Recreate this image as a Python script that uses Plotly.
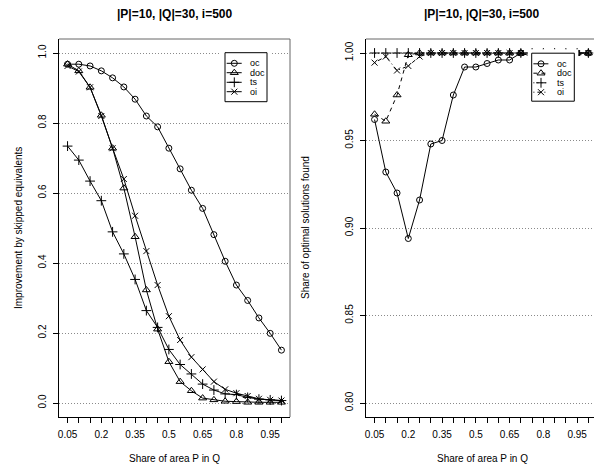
import plotly.graph_objects as go

# ---------------- data ----------------
share = [0.05, 0.10, 0.15, 0.20, 0.25, 0.30, 0.35, 0.40, 0.45, 0.50,
         0.55, 0.60, 0.65, 0.70, 0.75, 0.80, 0.85, 0.90, 0.95, 1.00]
x_tick_labels = ["0.05", "", "", "0.2", "", "", "0.35", "", "", "0.5",
                 "", "", "0.65", "", "", "0.8", "", "", "0.95", ""]

# left panel: improvement by skipped equivalents
imp_oc = [0.968, 0.968, 0.963, 0.949, 0.929, 0.903, 0.868, 0.820, 0.789, 0.728,
          0.669, 0.608, 0.556, 0.481, 0.405, 0.337, 0.293, 0.243, 0.199, 0.151]
imp_doc = [0.968, 0.949, 0.902, 0.822, 0.728, 0.614, 0.475, 0.323, 0.211, 0.118,
           0.061, 0.035, 0.014, 0.009, 0.005, 0.004, 0.002, 0.002, 0.002, 0.002]
imp_ts = [0.734, 0.694, 0.634, 0.578, 0.489, 0.426, 0.353, 0.264, 0.216, 0.153,
          0.110, 0.083, 0.054, 0.037, 0.026, 0.024, 0.016, 0.011, 0.009, 0.007]
imp_oi = [0.963, 0.947, 0.902, 0.820, 0.728, 0.640, 0.535, 0.434, 0.337, 0.248,
          0.180, 0.131, 0.096, 0.061, 0.039, 0.028, 0.020, 0.012, 0.009, 0.007]

# right panel: share of optimal solutions found
opt_oc = [0.962, 0.932, 0.920, 0.894, 0.916, 0.948, 0.950, 0.976, 0.992, 0.992,
          0.994, 0.996, 0.996, 1.000, 0.998, 1.000, 0.998, 1.000, 1.000, 1.000]
opt_doc = [0.965, 0.961, 0.976, 0.999, 1.000, 1.000, 1.000, 1.000, 1.000, 1.000,
           1.000, 1.000, 1.000, 1.000, 1.000, 1.000, 1.000, 1.000, 1.000, 1.000]
opt_ts = [1.000] * 20
opt_oi = [0.9945, 0.998, 0.990, 0.9926, 0.998, 1.000, 1.000, 1.000, 1.000, 1.000,
          1.000, 1.000, 1.000, 1.000, 1.000, 1.000, 1.000, 1.000, 1.000, 1.000]

left_ticks = [0.0, 0.2, 0.4, 0.6, 0.8, 1.0]
left_ticktext = ["0.0", "0.2", "0.4", "0.6", "0.8", "1.0"]
right_ticks = [0.80, 0.85, 0.90, 0.95, 1.00]
right_ticktext = ["0.80", "0.85", "0.90", "0.95", "1.00"]

series_names = ["oc", "doc", "ts", "oi"]
title_text = "|P|=10, |Q|=30, i=500"
xlab = "Share of area P in Q"
ylab_left = "Improvement by skipped equivalents"
ylab_right = "Share of optimal solutions found"

# ---------------- styling ----------------
W, H = 594, 468
FONT = "Liberation Sans, Arial, Helvetica, sans-serif"
symbols = ["circle-open", "triangle-up-open", "cross-thin-open", "x-thin-open"]
msizes = [6, 7, 7, 6]
left_dash = ["solid"] * 4
right_dash = ["solid", "4px,4px", "1px,3px", "1px,3px,4px,3px"]


def fx(p):
    return p / W


def fy(p):
    return 1 - p / H


fig = go.Figure()

left_vals = [imp_oc, imp_doc, imp_ts, imp_oi]
right_vals = [opt_oc, opt_doc, opt_ts, opt_oi]

for vals, sym, ms, d in zip(left_vals, symbols, msizes, left_dash):
    fig.add_trace(go.Scatter(
        x=share, y=vals, mode="lines+markers", xaxis="x", yaxis="y",
        line=dict(color="black", width=1, dash=d),
        marker=dict(symbol=sym, size=ms, color="black", line=dict(width=1, color="black")),
        showlegend=False, cliponaxis=False))

for vals, sym, ms, d in zip(right_vals, symbols, msizes, right_dash):
    fig.add_trace(go.Scatter(
        x=share, y=vals, mode="lines+markers", xaxis="x2", yaxis="y2",
        line=dict(color="black", width=1, dash=d),
        marker=dict(symbol=sym, size=ms, color="black", line=dict(width=1, color="black")),
        showlegend=False, cliponaxis=False))


# ---------------- manual legends (R style) ----------------
def add_legend(xa, ya, box_l, box_r, box_t, box_b, dashes):
    pad = 4
    fig.add_trace(go.Scatter(
        x=[box_l, box_r, box_r, box_l, box_l], y=[box_t, box_t, box_b, box_b, box_t],
        mode="lines", fill="toself", fillcolor="white",
        line=dict(color="black", width=1), xaxis=xa, yaxis=ya,
        showlegend=False, hoverinfo="skip"))
    offs = [10.6, 20.0, 29.6, 39.0]
    for name, sym, ms, d, off in zip(series_names, symbols, msizes, dashes, offs):
        yy = box_t + off
        fig.add_trace(go.Scatter(
            x=[box_l + 1.7, box_l + 16.7], y=[yy, yy], mode="lines",
            line=dict(color="black", width=1, dash=d), xaxis=xa, yaxis=ya,
            showlegend=False, hoverinfo="skip"))
        fig.add_trace(go.Scatter(
            x=[box_l + 9.3], y=[yy], mode="markers",
            marker=dict(symbol=sym, size=ms, color="black", line=dict(width=1, color="black")),
            xaxis=xa, yaxis=ya, showlegend=False, hoverinfo="skip"))
        fig.add_annotation(x=box_l + 23, y=yy, xref=xa, yref=ya, text=name,
                           showarrow=False, xanchor="left", yanchor="middle",
                           font=dict(family=FONT, size=9, color="black"))
    return dict(domain=[fx(box_l - pad), fx(box_r + pad)], range=[box_l - pad, box_r + pad],
                visible=False, fixedrange=True), \
        dict(domain=[fy(box_b + pad), fy(box_t - pad)], range=[box_b + pad, box_t - pad],
             visible=False, fixedrange=True)


xa3, ya3 = add_legend("x3", "y3", 225, 267, 52.7, 101.7, left_dash)
xa4, ya4 = add_legend("x4", "y4", 531.7, 574.3, 53.2, 101.2, right_dash)

# ---------------- axes ----------------
tickfont = dict(family=FONT, size=10, color="black")
common_x = dict(tickvals=share, ticktext=x_tick_labels, ticks="outside", ticklen=5,
                tickwidth=1, tickcolor="black", showgrid=False, zeroline=False,
                showline=True, linecolor="black", linewidth=1, tickfont=tickfont,
                ticklabelstandoff=3, fixedrange=True)
common_y = dict(ticks="outside", ticklen=5, tickwidth=1, tickcolor="black",
                showgrid=True, gridcolor="#8a8a8a", gridwidth=1, griddash="1px,2px",
                zeroline=False, showline=True, linecolor="black", linewidth=1,
                tickfont=tickfont, tickangle=-90, ticklabelstandoff=3, fixedrange=True)

y_dom = [fy(417), fy(39)]

fig.update_layout(
    width=W, height=H, autosize=False,
    margin=dict(l=0, r=0, t=0, b=0, pad=0),
    paper_bgcolor="white", plot_bgcolor="white",
    font=dict(family=FONT, size=10, color="black"),
    hovermode=False,
    xaxis=dict(domain=[fx(59), fx(290)], range=[0.012, 1.038], anchor="y", **common_x),
    yaxis=dict(domain=y_dom, range=[-0.04, 1.04], anchor="x",
               tickvals=left_ticks, ticktext=left_ticktext, **common_y),
    xaxis2=dict(domain=[fx(366), 1.0], range=[0.012, 1.025], anchor="y2", **common_x),
    yaxis2=dict(domain=y_dom, range=[0.792, 1.008], anchor="x2",
                tickvals=right_ticks, ticktext=right_ticktext, **common_y),
    xaxis3=xa3, yaxis3=ya3, xaxis4=xa4, yaxis4=ya4,
)

# box (top/right) lines
fig.add_shape(type="line", xref="x domain", yref="y domain", x0=0, x1=1, y0=1, y1=1,
              line=dict(color="#666666", width=1))
fig.add_shape(type="line", xref="x domain", yref="y domain", x0=1, x1=1, y0=0, y1=1,
              line=dict(color="#666666", width=1))
fig.add_shape(type="line", xref="x2 domain", yref="y2 domain", x0=0, x1=1, y0=1, y1=1,
              line=dict(color="#666666", width=1))

# titles and axis labels
for cx, ylab, ylx in [(174.5, ylab_left, 18), (482, ylab_right, 305)]:
    fig.add_annotation(x=fx(cx), y=fy(14), xref="paper", yref="paper", text="<b>" + title_text + "</b>",
                       showarrow=False, xanchor="center", yanchor="middle",
                       font=dict(family=FONT, size=12, color="black"))
    fig.add_annotation(x=fx(cx), y=fy(458), xref="paper", yref="paper", text=xlab,
                       showarrow=False, xanchor="center", yanchor="middle",
                       font=dict(family=FONT, size=10, color="black"))
    fig.add_annotation(x=fx(ylx), y=fy(228), xref="paper", yref="paper", text=ylab,
                       showarrow=False, xanchor="center", yanchor="middle", textangle=-90,
                       font=dict(family=FONT, size=10, color="black"))

fig.write_html("out.html", config={"displayModeBar": False, "staticPlot": True},
               post_script="document.body.style.margin='0px';document.body.style.overflow='hidden';")
